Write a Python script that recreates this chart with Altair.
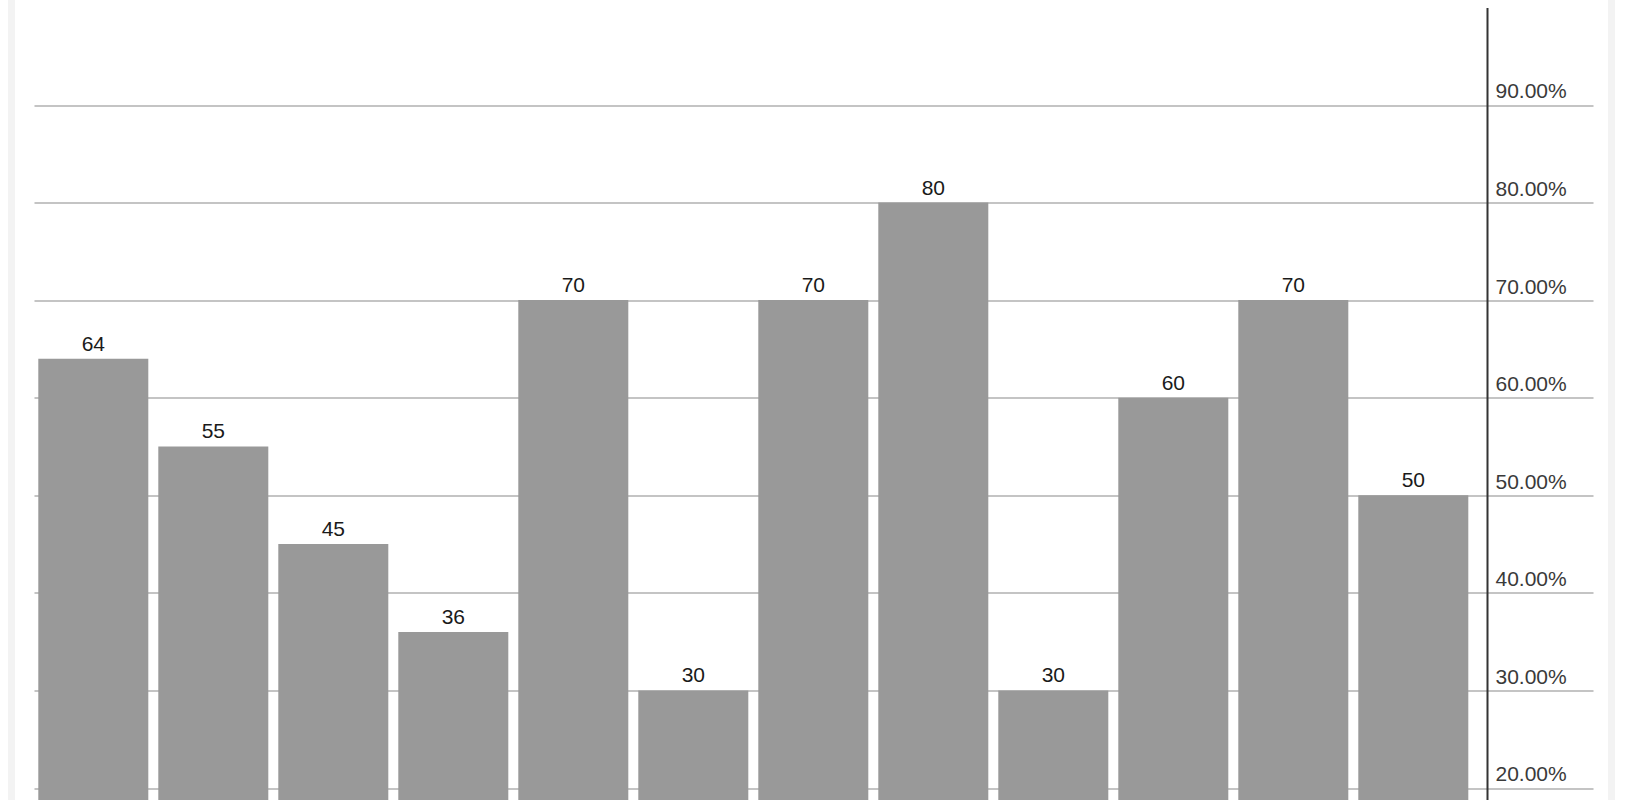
import altair as alt
import pandas as pd

# Chart data
categories = ["c01", "c02", "c03", "c04", "c05", "c06",
              "c07", "c08", "c09", "c10", "c11", "c12"]
values = [64, 55, 45, 36, 70, 30, 70, 80, 30, 60, 70, 50]
tick_values = [20, 30, 40, 50, 60, 70, 80, 90]
y_domain = [18.77, 100]

df = pd.DataFrame({"category": categories, "value": values})
frame_df = pd.DataFrame({"edge": ["left", "right"]})

PLOT_W = 1453
PLOT_H = 792.6
FONT = "Liberation Sans"

x_enc = alt.X(
    "category:N",
    sort=categories,
    axis=None,
    scale=alt.Scale(paddingInner=0.0833, paddingOuter=0.0958, align=0.187),
)
y_enc = alt.Y(
    "value:Q",
    scale=alt.Scale(domain=y_domain, nice=False, zero=False),
    axis=alt.Axis(
        orient="right",
        values=tick_values,
        labelExpr="format(datum.value / 100, '.2%')",
        title=None,
        grid=True,
        gridColor="#c4c4c4",
        gridWidth=2,
        ticks=True,
        tickSize=106,
        tickColor="#c4c4c4",
        tickWidth=2,
        domainColor="#333333",
        domainWidth=2,
        labelPadding=-98,
        labelOffset=-7,
        labelBaseline="alphabetic",
        labelAlign="left",
        labelFont=FONT,
        labelFontSize=21,
        labelColor="#3a3a3a",
        labelOverlap=False,
        labelFlush=False,
        labelBound=False,
    ),
)

bars = alt.Chart(df).mark_bar(color="#999999", clip=True).encode(x=x_enc, y=y_enc)

labels = alt.Chart(df).mark_text(
    dy=-8, baseline="alphabetic", align="center",
    font=FONT, fontSize=21, color="#1a1a1a",
).encode(x=alt.X("category:N", sort=categories), y="value:Q", text="value:Q")

# light page frame on both sides
left_edge = alt.Chart(frame_df).transform_filter("datum.edge == 'left'").mark_rule(
    color="#f3f3f3", strokeWidth=7
).encode(x=alt.value(-22.5), y=alt.value(-7.4), y2=alt.value(PLOT_H))
right_edge = alt.Chart(frame_df).transform_filter("datum.edge == 'right'").mark_rule(
    color="#f3f3f3", strokeWidth=7
).encode(x=alt.value(1577.5), y=alt.value(-7.4), y2=alt.value(PLOT_H))

chart = alt.layer(left_edge, right_edge, bars, labels).properties(
    width=PLOT_W,
    height=PLOT_H,
    background="white",
    autosize=alt.AutoSizeParams(type="none"),
    padding={"left": 34, "top": 7.4, "right": 143, "bottom": 0},
).configure_view(stroke=None)

chart.save("out.html", embed_options={"renderer": "svg", "actions": False})
